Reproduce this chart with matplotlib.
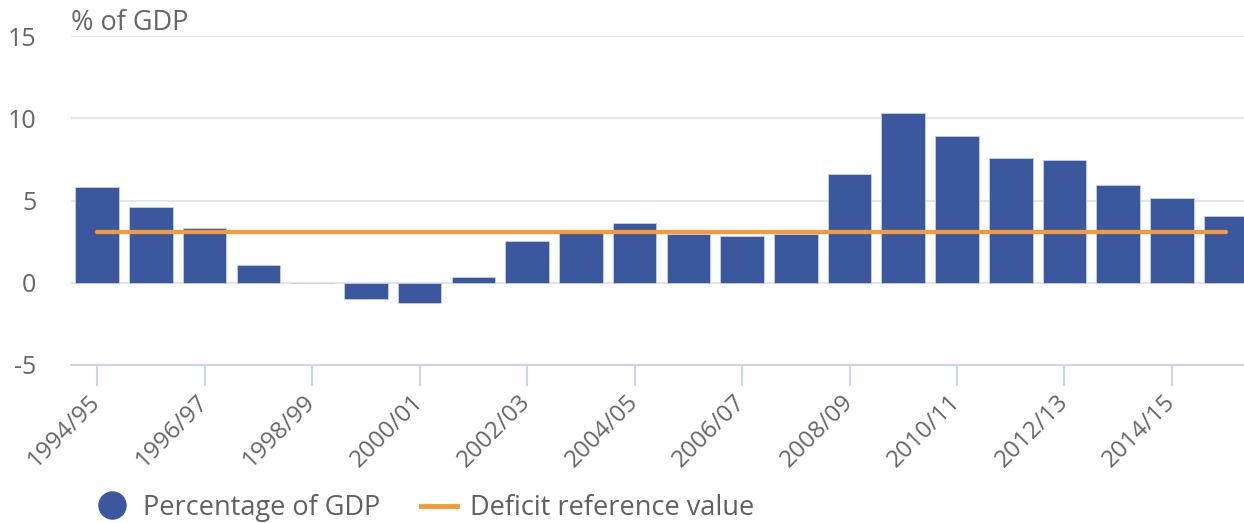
import matplotlib.pyplot as plt
from matplotlib.lines import Line2D

plt.rcParams['font.family'] = ['Open Sans', 'DejaVu Sans']

years = ['1994/95', '1995/96', '1996/97', '1997/98', '1998/99', '1999/00',
         '2000/01', '2001/02', '2002/03', '2003/04', '2004/05', '2005/06',
         '2006/07', '2007/08', '2008/09', '2009/10', '2010/11', '2011/12',
         '2012/13', '2013/14', '2014/15', '2015/16']
pct_gdp = [5.8, 4.58, 3.34, 1.05, 0.0, -0.98, -1.24, 0.35, 2.53, 3.08, 3.62,
           2.94, 2.82, 2.94, 6.62, 10.29, 8.92, 7.56, 7.44, 5.95, 5.14, 4.05]
ref_value = 3.1
y_ticks = [-5, 0, 5, 10, 15]

bar_col = '#3b589e'
line_col = '#f59a3a'
txt_col = '#666666'
W, H = 1244, 523

fig = plt.figure(figsize=(W / 100, H / 100), dpi=100)
ax = fig.add_axes([71 / W, 1 - 365 / H, 1 - 71 / W, (365 - 36) / H])

x = list(range(len(years)))
ax.bar(x, pct_gdp, width=0.81, color=bar_col, edgecolor='#c8d0e6', linewidth=0.6, zorder=2)
ax.plot([x[0], x[-1]], [ref_value, ref_value], color=line_col, lw=3,
        solid_capstyle='round', zorder=3)

ax.set_xlim(-0.485, 21.34)
ax.set_ylim(-5, 15)
ax.set_yticks(y_ticks)
ax.set_yticklabels([str(v) for v in y_ticks])  # plain hyphen for -5
ax.yaxis.grid(True, color='#e6e6e6', lw=1.5, zorder=0)
ax.tick_params(axis='y', length=0, pad=25, labelsize=18, labelcolor=txt_col)

ax.set_xticks(x[::2])
ax.set_xticklabels(years[::2])
ax.tick_params(axis='x', length=15, width=1.5, color='#ccd6eb', labelsize=17.5,
               labelcolor=txt_col, pad=9, labelrotation=45)
for lab in ax.get_xticklabels():
    lab.set_horizontalalignment('right')
    lab.set_verticalalignment('center')
    lab.set_rotation_mode('anchor')

for s in ['top', 'right', 'left']:
    ax.spines[s].set_visible(False)
ax.spines['bottom'].set_color('#ccd6eb')
ax.spines['bottom'].set_linewidth(1.5)

fig.text(71 / W, 1 - 30 / H, '% of GDP', fontsize=19.5, color=txt_col, va='baseline')

# legend, drawn by hand to sit where the original one does
leg_base = 1 - 515 / H
leg_mid = 1 - 506 / H
fig.add_artist(Line2D([111.5 / W], [1 - 505 / H], marker='o', ls='none', color=bar_col,
                      markersize=19.5, transform=fig.transFigure))
fig.text(143 / W, leg_base, 'Percentage of GDP', fontsize=19.5, color='#606060', va='baseline')
fig.add_artist(Line2D([421 / W, 457 / W], [leg_mid, leg_mid], color=line_col, lw=3.5,
                      transform=fig.transFigure))
fig.text(470 / W, leg_base, 'Deficit reference value', fontsize=19.5, color='#606060',
         va='baseline')

fig.savefig('out.png', dpi=100)
